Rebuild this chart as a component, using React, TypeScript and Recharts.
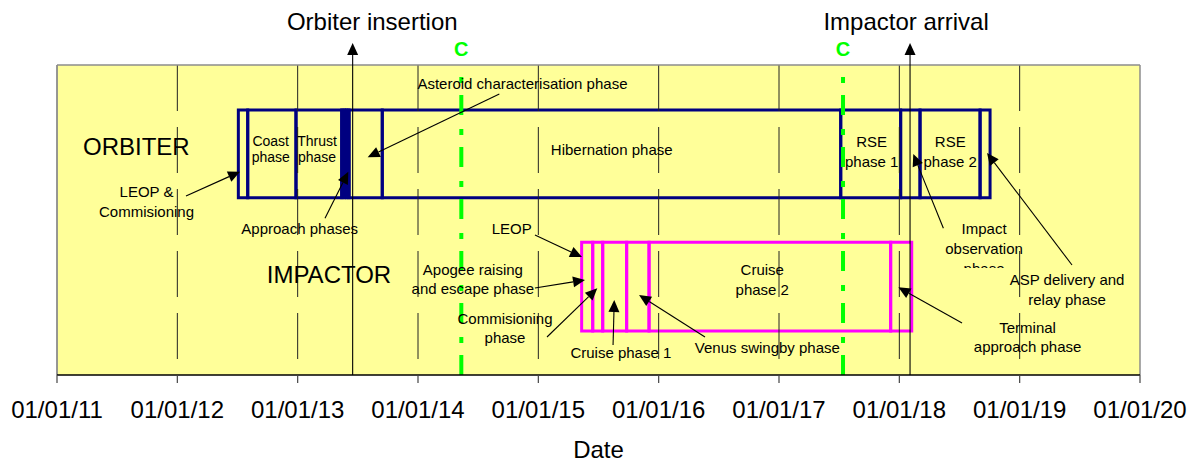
import React from 'react';
import {
  ComposedChart,
  XAxis,
  YAxis,
  CartesianGrid,
  ReferenceArea,
  ReferenceLine,
  ReferenceDot,
} from 'recharts';

// x axis: dates as decimal years
const tickYears = [2011, 2012, 2013, 2014, 2015, 2016, 2017, 2018, 2019, 2020];
const tickLabels = ['01/01/11', '01/01/12', '01/01/13', '01/01/14', '01/01/15', '01/01/16', '01/01/17', '01/01/18', '01/01/19', '01/01/20'];
const gridYears = [2012, 2013, 2014, 2015, 2016, 2017, 2018, 2019];

const orbiterPhases = [
  { name: 'LEOP & Commisioning', start: 2012.507, end: 2012.585 },
  { name: 'Coast phase', start: 2012.585, end: 2012.986 },
  { name: 'Thrust phase', start: 2012.986, end: 2013.366 },
  { name: 'Approach phase 1', start: 2013.366, end: 2013.388 },
  { name: 'Approach phase 2', start: 2013.388, end: 2013.407 },
  { name: 'Approach phase 3', start: 2013.407, end: 2013.427 },
  { name: 'Asteroid characterisation phase', start: 2013.427, end: 2013.703 },
  { name: 'Hibernation phase', start: 2013.703, end: 2017.513 },
  { name: 'RSE phase 1', start: 2017.513, end: 2018.011 },
  { name: 'Impact observation phase', start: 2018.011, end: 2018.172 },
  { name: 'RSE phase 2', start: 2018.172, end: 2018.671 },
  { name: 'ASP delivery and relay phase', start: 2018.671, end: 2018.754 },
];

const impactorPhases = [
  { name: 'Apogee raising and escape phase', start: 2015.36, end: 2015.452 },
  { name: 'Commisioning phase', start: 2015.452, end: 2015.535 },
  { name: 'Cruise phase 1', start: 2015.535, end: 2015.734 },
  { name: 'Venus swingby phase', start: 2015.734, end: 2015.92 },
  { name: 'Cruise phase 2', start: 2015.92, end: 2017.928 },
  { name: 'Terminal approach phase', start: 2017.928, end: 2018.103 },
];

const milestones = [
  { name: 'Orbiter insertion', date: 2013.457 },
  { name: 'Impactor arrival', date: 2018.089 },
];

const checkpoints = [2014.36, 2017.532];

// rows on a 0..10 vertical scale
const orbiterRow = [5.72, 8.55];
const impactorRow = [1.42, 4.28];

type Note = {
  lines: string[];
  x: number;
  y: number;
  size?: number;
  lh?: number;
  anchor?: 'start' | 'middle' | 'end';
  color?: string;
  bold?: boolean;
  clip?: number;
};

const notes: Note[] = [
  { lines: ['ORBITER'], x: 2011.216, y: 7.097, size: 24, anchor: 'start' },
  { lines: ['IMPACTOR'], x: 2012.743, y: 2.958, size: 24, anchor: 'start' },
  { lines: ['Coast', 'phase'], x: 2012.776, y: 7.397, size: 14, lh: 16.6 },
  { lines: ['Thrust', 'phase'], x: 2013.161, y: 7.397, size: 14, lh: 16.6 },
  { lines: ['Hibernation phase'], x: 2015.61, y: 7.097 },
  { lines: ['RSE', 'phase 1'], x: 2017.77, y: 7.365 },
  { lines: ['RSE', 'phase 2'], x: 2018.423, y: 7.365 },
  { lines: ['Asteroid characterisation phase'], x: 2014.868, y: 9.216 },
  { lines: ['LEOP &', 'Commisioning'], x: 2011.744, y: 5.752 },
  { lines: ['Approach phases'], x: 2013.017, y: 4.548 },
  { lines: ['Impact', 'observation', 'phase'], x: 2018.704, y: 4.548, clip: 34 },
  { lines: ['ASP delivery and', 'relay phase'], x: 2019.394, y: 2.903 },
  { lines: ['LEOP'], x: 2014.779, y: 4.548 },
  { lines: ['Apogee raising', 'and escape phase'], x: 2014.456, y: 3.226, lh: 19 },
  { lines: ['Commisioning', 'phase'], x: 2014.723, y: 1.645, lh: 18.5 },
  { lines: ['Cruise phase 1'], x: 2015.686, y: 0.558 },
  { lines: ['Venus swingby phase'], x: 2016.903, y: 0.7 },
  { lines: ['Cruise', 'phase 2'], x: 2016.861, y: 3.226 },
  { lines: ['Terminal', 'approach phase'], x: 2019.066, y: 1.345, lh: 19 },
  { lines: ['Orbiter insertion'], x: 2013.62, y: 11.113, size: 24 },
  { lines: ['Impactor arrival'], x: 2018.056, y: 11.13, size: 24 },
  ...checkpoints.map((c) => ({ lines: ['C'], x: c, y: 10.29, size: 20, color: '#00ff00', bold: true })),
];

const arrows = [
  { from: [2014.676, 9.065], to: [2013.582, 7.023] },
  { from: [2012.072, 5.774], to: [2012.521, 6.558] },
  { from: [2013.227, 5.055], to: [2013.421, 6.558] },
  { from: [2018.366, 4.732], to: [2018.116, 7.129] },
  { from: [2019.435, 3.548], to: [2018.729, 7.161] },
  { from: [2014.972, 4.516], to: [2015.363, 3.806] },
  { from: [2014.972, 2.806], to: [2015.388, 3.065] },
  { from: [2015.072, 1.226], to: [2015.49, 2.797] },
  { from: [2015.621, 0.968], to: [2015.631, 2.419] },
  { from: [2016.385, 1.226], to: [2015.837, 2.581] },
  { from: [2018.521, 1.677], to: [2017.992, 2.829] },
  ...milestones.map((m) => ({ from: [m.date, 0], to: [m.date, 10.71] })),
];

const FONT = 'Arial, "Liberation Sans", Helvetica, sans-serif';

const ArrowShape = (props: any) => {
  const { x1, y1, x2, y2 } = props;
  const dx = x2 - x1;
  const dy = y2 - y1;
  const len = Math.hypot(dx, dy) || 1;
  const ux = dx / len;
  const uy = dy / len;
  const L = 12;
  const W = 5.5;
  const bx = x2 - ux * L;
  const by = y2 - uy * L;
  const pts = `${x2},${y2} ${bx - uy * W},${by + ux * W} ${bx + uy * W},${by - ux * W}`;
  return (
    <g>
      <line x1={x1} y1={y1} x2={bx} y2={by} stroke="#000" strokeWidth={1.1} />
      <polygon points={pts} fill="#000" />
    </g>
  );
};

const noteShape = (note: Note, idx: number) => (props: any) => {
  const { cx, cy } = props;
  const size = note.size ?? 15;
  const lh = note.lh ?? 20;
  const clipId = `note-clip-${idx}`;
  return (
    <g>
      {note.clip != null && (
        <defs>
          <clipPath id={clipId}>
            <rect x={cx - 200} y={cy - 40} width={400} height={40 + note.clip} />
          </clipPath>
        </defs>
      )}
      <text
        x={cx}
        y={cy}
        textAnchor={note.anchor ?? 'middle'}
        fontSize={size}
        fontFamily={FONT}
        fontWeight={note.bold ? 'bold' : 'normal'}
        fill={note.color ?? '#000'}
        clipPath={note.clip != null ? `url(#${clipId})` : undefined}
      >
        {note.lines.map((l, i) => (
          <tspan key={i} x={cx} dy={i === 0 ? 0 : lh}>
            {l}
          </tspan>
        ))}
      </text>
    </g>
  );
};

export default function App() {
  return (
    <div style={{ position: 'absolute', left: 0, top: 0, fontFamily: FONT, background: '#fff' }}>
      <ComposedChart
        width={1195}
        height={464}
        data={tickYears.map((x) => ({ x }))}
        margin={{ top: 65, right: 55, bottom: 0, left: 57 }}
      >
        <CartesianGrid fill="#ffff99" fillOpacity={1} stroke="none" horizontal={false} vertical={false} />
        <XAxis
          dataKey="x"
          type="number"
          domain={[2011, 2020]}
          ticks={tickYears}
          tickFormatter={(v: number) => tickLabels[tickYears.indexOf(v)] ?? ''}
          interval={0}
          height={89}
          tickSize={8}
          tickMargin={18}
          axisLine={{ stroke: '#000', strokeWidth: 1.6 }}
          tickLine={{ stroke: '#444', strokeWidth: 1.2 }}
          tick={{ fill: '#000', fontSize: 24, fontFamily: FONT }}
          label={{ value: 'Date', position: 'insideBottom', offset: 6, fill: '#000', fontSize: 24, fontFamily: FONT }}
          allowDataOverflow
        />
        <YAxis type="number" domain={[0, 10]} hide allowDataOverflow />

        {gridYears.map((g) => (
          <ReferenceLine
            key={`grid-${g}`}
            segment={[{ x: g, y: 10 }, { x: g, y: 0 }]}
            stroke="#222"
            strokeWidth={1}
            strokeDasharray="46 16"
          />
        ))}
        <ReferenceLine segment={[{ x: 2011, y: 0 }, { x: 2011, y: 10 }]} stroke="#8c8c8c" strokeWidth={1.8} ifOverflow="visible" />
        <ReferenceLine segment={[{ x: 2011, y: 10 }, { x: 2020, y: 10 }]} stroke="#8c8c8c" strokeWidth={1.5} ifOverflow="visible" />
        <ReferenceLine segment={[{ x: 2020, y: 0 }, { x: 2020, y: 10 }]} stroke="#8c8c8c" strokeWidth={1.5} ifOverflow="visible" />

        {orbiterPhases.map((p) => (
          <ReferenceArea
            key={`orb-${p.name}`}
            x1={p.start}
            x2={p.end}
            y1={orbiterRow[0]}
            y2={orbiterRow[1]}
            fill="none"
            fillOpacity={0}
            stroke="#000080"
            strokeWidth={3}
          />
        ))}
        {impactorPhases.map((p) => (
          <ReferenceArea
            key={`imp-${p.name}`}
            x1={p.start}
            x2={p.end}
            y1={impactorRow[0]}
            y2={impactorRow[1]}
            fill="none"
            fillOpacity={0}
            stroke="#ff00ff"
            strokeWidth={3}
          />
        ))}

        {checkpoints.map((c) => (
          <ReferenceLine
            key={`chk-${c}`}
            segment={[{ x: c, y: 0 }, { x: c, y: 10 }]}
            stroke="#00ff00"
            strokeWidth={4}
            strokeDasharray="20 12 6 14"
          />
        ))}

        {arrows.map((a, i) => (
          <ReferenceLine
            key={`arrow-${i}`}
            segment={[{ x: a.from[0], y: a.from[1] }, { x: a.to[0], y: a.to[1] }]}
            ifOverflow="visible"
            shape={ArrowShape}
          />
        ))}

        {notes.map((n, i) => (
          <ReferenceDot key={`note-${i}`} x={n.x} y={n.y} r={0} ifOverflow="visible" shape={noteShape(n, i)} />
        ))}
      </ComposedChart>
    </div>
  );
}
